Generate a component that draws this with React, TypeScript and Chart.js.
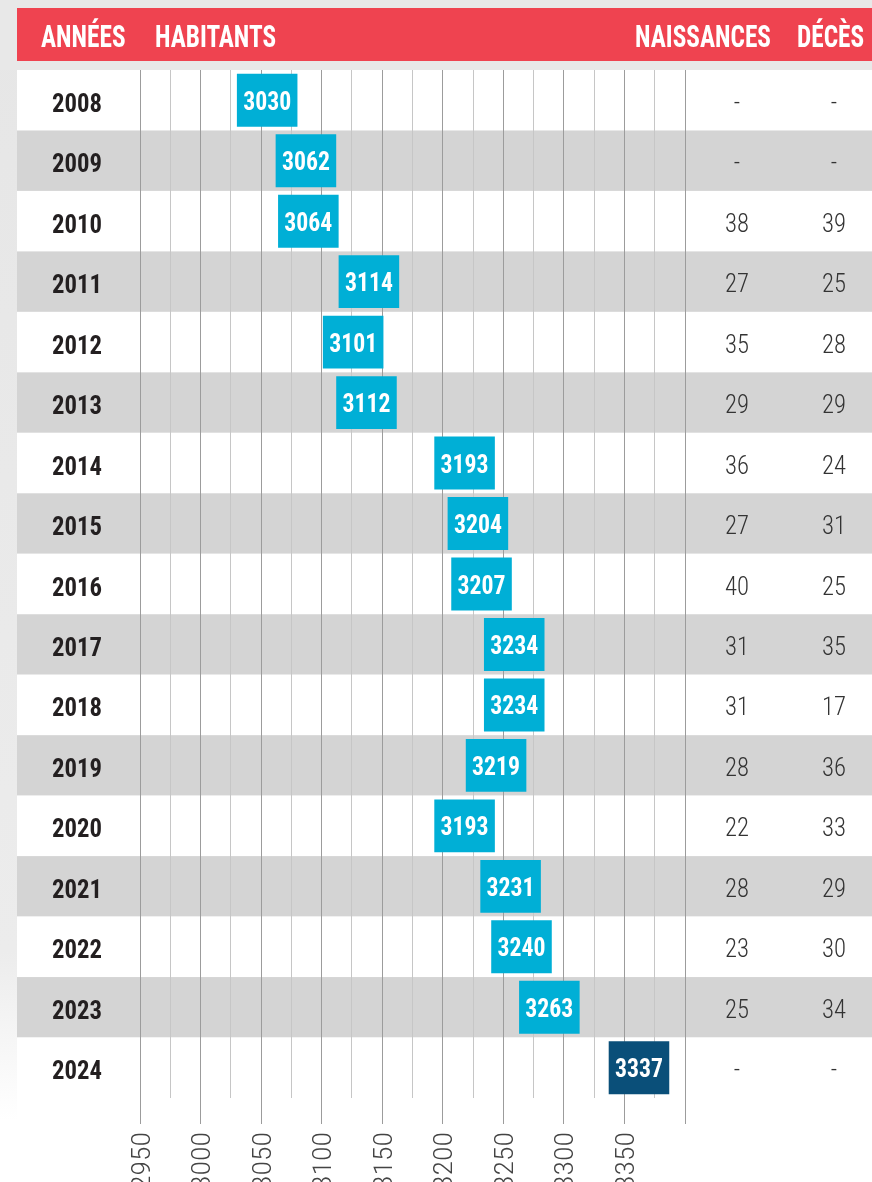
import React, { useEffect, useRef } from 'react';
import { Chart, registerables } from 'chart.js';

Chart.register(...registerables);

const years = ['2008', '2009', '2010', '2011', '2012', '2013', '2014', '2015', '2016', '2017', '2018', '2019', '2020', '2021', '2022', '2023', '2024'];
const habitants = [3030, 3062, 3064, 3114, 3101, 3112, 3193, 3204, 3207, 3234, 3234, 3219, 3193, 3231, 3240, 3263, 3337];
const naissances: (number | null)[] = [null, null, 38, 27, 35, 29, 36, 27, 40, 31, 31, 28, 22, 28, 23, 25, null];
const deces: (number | null)[] = [null, null, 39, 25, 28, 29, 24, 31, 25, 35, 17, 36, 33, 29, 30, 34, null];
const xTickLabels = [2950, 3000, 3050, 3100, 3150, 3200, 3250, 3300, 3350];
const headerLabels = ['ANNÉES', 'HABITANTS', 'NAISSANCES', 'DÉCÈS'];
const BOX_SPAN = 50;

const FAMILY = "'Roboto Condensed', 'Liberation Sans Narrow', 'DejaVu Sans Condensed', Roboto, sans-serif";
const RED = '#ef4350';
const CYAN = '#00afd6';
const DARK = '#0a4f79';
const BAND = '#d4d4d4';

function condense(ctx: CanvasRenderingContext2D, font: string, ref: string, width: number) {
  ctx.save();
  ctx.font = font;
  const w = ctx.measureText(ref).width;
  ctx.restore();
  return w > 0 ? width / w : 1;
}

function drawText(
  ctx: CanvasRenderingContext2D,
  text: string,
  x: number,
  y: number,
  font: string,
  color: string,
  sx: number,
  align: CanvasTextAlign,
  rotate = 0
) {
  ctx.save();
  ctx.font = font;
  ctx.fillStyle = color;
  ctx.textAlign = align;
  ctx.textBaseline = 'alphabetic';
  ctx.translate(x, y);
  if (rotate) ctx.rotate(rotate);
  ctx.scale(sx, 1);
  ctx.fillText(text, 0, 0);
  ctx.restore();
}

const tablePlugin = {
  id: 'tablePlugin',
  beforeDraw(chart: any) {
    const { ctx, width, height, chartArea } = chart;
    const yScale = chart.scales.y;
    ctx.save();
    ctx.fillStyle = '#ffffff';
    ctx.fillRect(0, 0, width, height);
    ctx.fillStyle = '#e8e8e8';
    ctx.fillRect(0, 0, width, chartArea.top);
    const g = ctx.createLinearGradient(0, 0, 0, 1120);
    g.addColorStop(0, '#e6e6e6');
    g.addColorStop(0.85, '#ececec');
    g.addColorStop(1, '#ffffff');
    ctx.fillStyle = g;
    ctx.fillRect(0, chartArea.top, 17, 1120 - chartArea.top);
    ctx.fillStyle = RED;
    ctx.fillRect(17, 8, width - 17, 53);
    const rowH = (chartArea.bottom - chartArea.top) / years.length;
    years.forEach((_, i) => {
      const cy = yScale.getPixelForValue(i);
      ctx.fillStyle = i % 2 === 1 ? BAND : '#ffffff';
      ctx.fillRect(17, cy - rowH / 2, width - 17, rowH);
    });
    ctx.restore();

    const hFont = `bold 31px ${FAMILY}`;
    const hsx = condense(ctx, hFont, 'NAISSANCES', 136);
    const hx = [41, 155, 635, 797];
    headerLabels.forEach((t, i) => drawText(ctx, t, hx[i], 47, hFont, '#ffffff', hsx, 'left'));
  },
  afterDatasetsDraw(chart: any) {
    const { ctx } = chart;
    const meta = chart.getDatasetMeta(0);
    const font = `bold 26px ${FAMILY}`;
    const sx = condense(ctx, font, '3030', 48);
    meta.data.forEach((el: any, i: number) => {
      const cx = (el.x + el.base) / 2;
      drawText(ctx, String(habitants[i]), cx, el.y + 9.5, font, '#ffffff', sx, 'center');
    });
  },
  afterDraw(chart: any) {
    const { ctx } = chart;
    const yScale = chart.scales.y;
    const xScale = chart.scales.x;
    const yFont = `bold 26px ${FAMILY}`;
    const ysx = condense(ctx, yFont, '2008', 50);
    const vFont = `300 26px ${FAMILY}`;
    const vsx = condense(ctx, vFont, '38', 24);
    years.forEach((yr, i) => {
      const cy = yScale.getPixelForValue(i);
      drawText(ctx, yr, 77, cy + 11.5, yFont, '#231f20', ysx, 'center');
      const n = naissances[i];
      const d = deces[i];
      drawText(ctx, n == null ? '-' : String(n), 737, cy + 10.5, vFont, '#333333', vsx, 'center');
      drawText(ctx, d == null ? '-' : String(d), 834, cy + 10.5, vFont, '#333333', vsx, 'center');
    });
    const tFont = `300 26px ${FAMILY}`;
    const tsx = condense(ctx, tFont, '2950', 58);
    xTickLabels.forEach((v) => {
      const px = xScale.getPixelForValue(v);
      drawText(ctx, String(v), px + 9.5, 1132, tFont, '#444444', tsx, 'right', -Math.PI / 2);
    });
  },
};

export default function App() {
  const ref = useRef<HTMLCanvasElement | null>(null);
  useEffect(() => {
    document.body.style.margin = '0';
    document.body.style.overflow = 'hidden';
    const canvas = ref.current;
    if (!canvas) return;
    const chart = new Chart(canvas, {
      type: 'bar',
      data: {
        labels: years,
        datasets: [
          {
            label: 'Habitants',
            data: habitants.map((v) => [v, v + BOX_SPAN]) as any,
            backgroundColor: habitants.map((_, i) => (i === habitants.length - 1 ? DARK : CYAN)),
            borderWidth: 0,
            borderSkipped: false,
            barPercentage: 0.875,
            categoryPercentage: 1,
          },
        ],
      },
      options: {
        indexAxis: 'y',
        responsive: false,
        animation: false,
        devicePixelRatio: 1,
        layout: { padding: { left: 140, right: 187, top: 70, bottom: 58 } },
        plugins: { legend: { display: false }, tooltip: { enabled: false } },
        scales: {
          x: {
            type: 'linear',
            min: 2950,
            max: 3400,
            position: 'bottom',
            border: { display: false },
            ticks: { display: false, stepSize: 25 },
            grid: {
              drawTicks: true,
              tickLength: 26,
              lineWidth: 1,
              color: (c: any) => (c.tick && c.tick.value % 50 === 0 ? '#9c9c9c' : '#c6c6c6'),
              tickColor: (c: any) => (c.tick && c.tick.value % 50 === 0 ? '#9c9c9c' : 'rgba(0,0,0,0)'),
            },
          },
          y: {
            type: 'category',
            display: false,
            offset: true,
            grid: { display: false },
          },
        },
      },
      plugins: [tablePlugin],
    });
    return () => chart.destroy();
  }, []);
  return (
    <div style={{ width: 872, height: 1182, position: 'relative' }}>
      <canvas ref={ref} width={872} height={1182} style={{ display: 'block', width: 872, height: 1182 }} />
    </div>
  );
}
